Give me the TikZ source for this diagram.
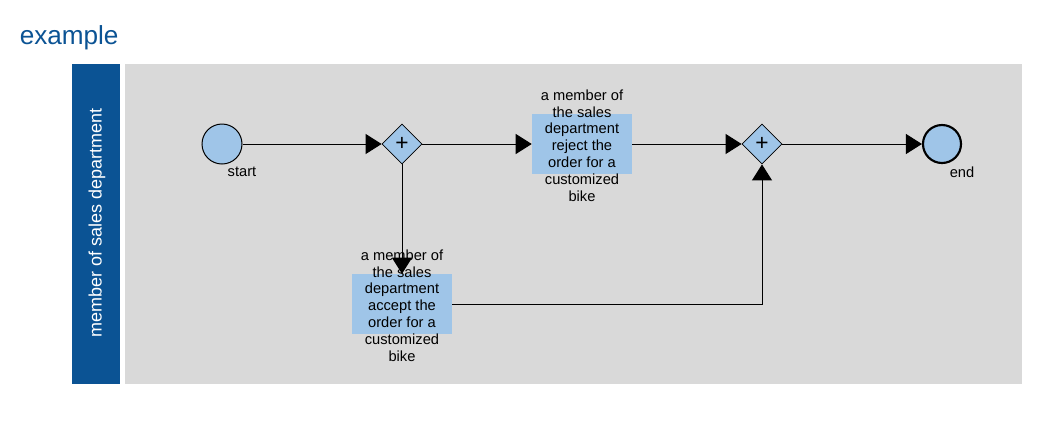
\documentclass[tikz,border=0pt]{standalone}
\usepackage{fontspec}
\setmainfont{Liberation Sans}
\usetikzlibrary{shapes.geometric,arrows.meta}
\definecolor{lanegray}{HTML}{D9D9D9}
\definecolor{darkblue}{HTML}{0B5394}
\definecolor{lightblue}{HTML}{9FC5E8}
\tikzset{
  evt/.style={circle,draw=black,line width=0.75pt,fill=lightblue,minimum size=30pt,inner sep=0pt},
  endevt/.style={circle,draw=black,line width=1.6pt,fill=lightblue,minimum size=28.5pt,inner sep=0pt},
  gw/.style={diamond,draw=black,line width=0.6pt,fill=lightblue,minimum width=30pt,minimum height=30pt,inner sep=0pt,font=\fontsize{17}{17}\selectfont},
  task/.style={rectangle,fill=lightblue,minimum width=75pt,minimum height=45pt,inner sep=0pt},
  tasktext/.style={align=center,font=\fontsize{11}{12.6}\selectfont,inner sep=0pt},
  lbl/.style={font=\fontsize{11}{12}\selectfont,inner sep=0pt},
  flow/.style={line width=0.75pt,-{Triangle[length=12pt,width=15pt]}}
}
\begin{document}
\begin{tikzpicture}[x=0.75pt,y=-0.75pt]
\useasboundingbox (0,0) rectangle (1039,426);
\node[anchor=west,text=darkblue,font=\fontsize{19.6}{19.6}\selectfont,inner sep=0pt] (title) at (19.5,38) {example};
\fill[darkblue] (72,64) rectangle (120,384);
\fill[lanegray] (125,64) rectangle (1022,384);
\node[rotate=90,text=white,font=\fontsize{13.5}{13.5}\selectfont,inner sep=0pt] (lane) at (97,223) {member of sales department};
% nodes
\node[evt] (start) at (222,144) {};
\node[lbl] (startl) at (242,172) {start};
\node[gw] (g1) at (402,144) {+};
\node[task] (t1) at (582,144) {};
\node[tasktext] (t1l) at (582,145.5) {a member of\\the sales\\department\\reject the\\order for a\\customized\\bike};
\node[gw] (g2) at (762,144) {+};
\node[endevt] (end) at (942,144) {};
\node[lbl] (endl) at (962,172) {end};
\node[task] (t2) at (402,304) {};
\node[tasktext] (t2l) at (402,305.5) {a member of\\the sales\\department\\accept the\\order for a\\customized\\bike};
% flows
\draw[flow] (start) -- (g1);
\draw[flow] (g1) -- (t1);
\draw[flow] (t1) -- (g2);
\draw[flow] (g2) -- (end);
\draw[flow] (g1) -- (t2);
\draw[flow] (t2.east) -| (g2.south);
\end{tikzpicture}
\end{document}
